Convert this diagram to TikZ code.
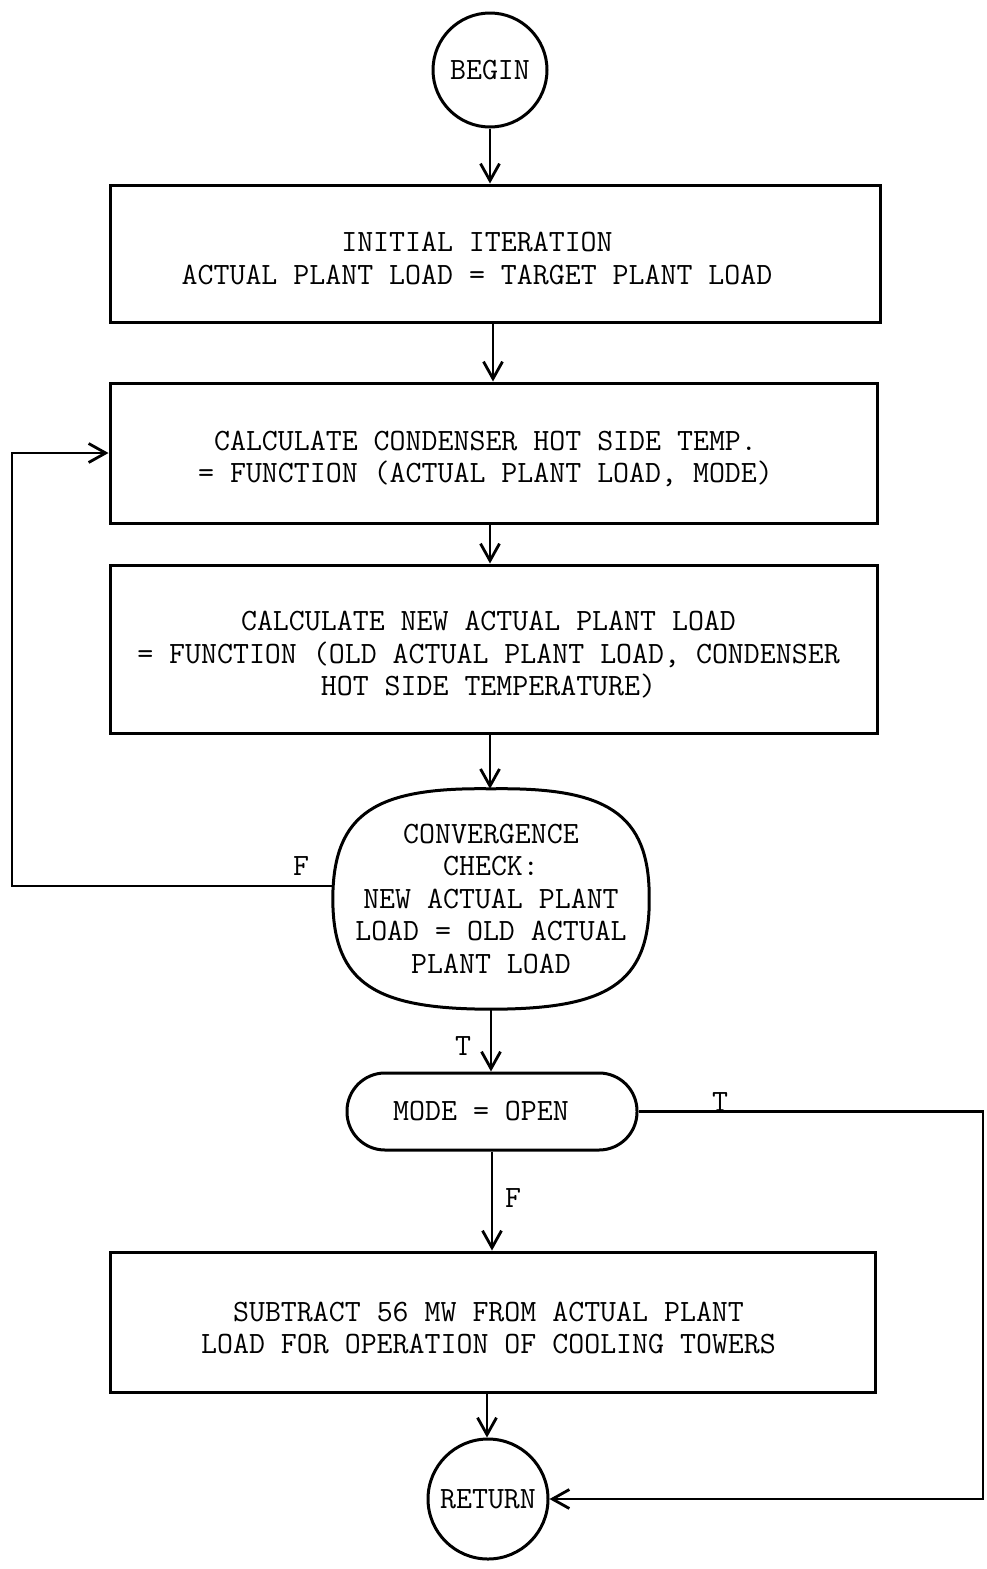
\documentclass[tikz,border=0pt]{standalone}
\usetikzlibrary{arrows.meta}
\begin{document}
\begin{tikzpicture}[x=1pt,y=-1pt,
  every node/.style={font=\fontsize{31}{32.5}\selectfont\ttfamily, inner sep=0pt, align=center},
  procbox/.style={draw, line width=3pt, rectangle},
  term/.style={draw, line width=3pt, circle, minimum size=#1},
  arr/.style={line width=2.8pt, -{Straight Barb[length=17pt,width=19pt,line width=2.8pt]}},
  ln/.style={line width=3pt}]
\useasboundingbox (0,0) rectangle (987,1569);
\node[term=114pt] (begin) at (490,70) {BEGIN};
\node[procbox, minimum width=770pt, minimum height=137pt,
  label={[xshift=-18pt,yshift=-5pt]center:{INITIAL ITERATION\\ACTUAL PLANT LOAD = TARGET PLANT LOAD}}] (box1) at (495,253.5) {};
\node[procbox, minimum width=767pt, minimum height=140pt,
  label={[xshift=-8pt,yshift=-6pt]center:{CALCULATE CONDENSER HOT SIDE TEMP.\\= FUNCTION (ACTUAL PLANT LOAD, MODE)}}] (box2) at (493.5,453) {};
\node[procbox, minimum width=767pt, minimum height=168pt,
  label={[xshift=-5pt,yshift=-6pt]center:{CALCULATE NEW ACTUAL PLANT LOAD\\= FUNCTION (OLD ACTUAL PLANT LOAD, CONDENSER\\HOT SIDE TEMPERATURE)}}] (box3) at (493.5,649) {};
\node[minimum width=316pt, minimum height=220pt] (conv) at (491,899)
  {CONVERGENCE\\CHECK:\\NEW ACTUAL PLANT\\LOAD = OLD ACTUAL\\PLANT LOAD};
\draw[ln] (conv.north) .. controls (605,787) and (650,812) .. (conv.east)
  .. controls (650,985) and (605,1009) .. (conv.south)
  .. controls (377,1009) and (333,985) .. (conv.west)
  .. controls (333,812) and (377,787) .. (conv.north);
\node[draw, line width=3pt, rounded corners=38pt, minimum width=290pt, minimum height=77pt,
  label={[xshift=-11pt]center:{MODE = OPEN}}] (mode) at (492,1111.5) {};
\node[procbox, minimum width=765pt, minimum height=140pt,
  label={[xshift=-4pt,yshift=-6pt]center:{SUBTRACT 56 MW FROM ACTUAL PLANT\\LOAD FOR OPERATION OF COOLING TOWERS}}] (box4) at (492.5,1322) {};
\node[term=120pt] (ret) at (488,1499) {RETURN};

\draw[arr] (begin.south) -- (begin.south |- box1.north);
\draw[arr] (493,322) coordinate (a1) -- (a1 |- box2.north);
\draw[arr] (490,523) coordinate (a2) -- (a2 |- box3.north);
\draw[arr] (490,733) coordinate (a3) -- (a3 |- conv.north);
\draw[arr] (conv.south) -- (conv.south |- mode.north);
\draw[arr] (mode.south) -- (mode.south |- box4.north);
\draw[arr] (487,1392) coordinate (a4) -- (a4 |- ret.north);

\coordinate (fl0) at (333.5,886);
\coordinate (fl1) at (12,886);
\coordinate (fl2) at (12,453);
\draw[arr] (fl0) -- (fl1) -- (fl2) -- (box2.west);
\coordinate (tr1) at (983,1111.5);
\coordinate (tr2) at (983,1499);
\draw[arr] (mode.east) -- (tr1) -- (tr2) -- (ret.east);

\node (lf1) at (301,866) {F};
\node (lt1) at (463,1046) {T};
\node (lt2) at (720,1102) {T};
\node (lf2) at (513,1198) {F};
\end{tikzpicture}
\end{document}
